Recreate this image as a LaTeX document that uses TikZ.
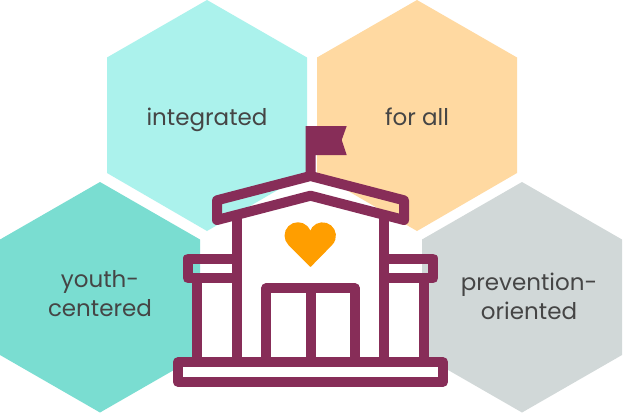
\documentclass[tikz,border=0pt]{standalone}
\usepackage{fontspec}
\setmainfont{Poppins}
\definecolor{maroon}{HTML}{872D58}
\definecolor{hexmint}{HTML}{ABF2EC}
\definecolor{hexpeach}{HTML}{FFD9A1}
\definecolor{hexteal}{HTML}{7ADDD1}
\definecolor{hexgray}{HTML}{D1D8D8}
\definecolor{heartorange}{HTML}{FF9E00}
\definecolor{labeltext}{HTML}{454545}
\tikzset{
  hexshape/.style={draw=none},
  bldg/.style={draw=maroon,line width=10pt,line join=round,line cap=butt},
  lbl/.style={text=labeltext,font=\fontsize{23}{29}\selectfont,align=center,inner sep=0pt}
}
\begin{document}
\begin{tikzpicture}[x=1pt,y=-1pt]
\useasboundingbox (0,0) rectangle (623,413);
\fill[white] (0,0) rectangle (623,413);
% hexagons
\fill[hexshape,hexmint] (207,0) -- (307,57.5) -- (307,173) -- (207,231) -- (107,173) -- (107,57.5) -- cycle;
\fill[hexshape,hexpeach] (417,0) -- (517,57.5) -- (517,173) -- (417,231) -- (317,173) -- (317,57.5) -- cycle;
\fill[hexshape,hexteal] (100,182) -- (200,239.5) -- (200,355) -- (100,412.5) -- (0,355) -- (0,239.5) -- cycle;
\fill[hexshape,hexgray] (522,182) -- (622,239.5) -- (622,355) -- (522,412.5) -- (422,355) -- (422,239.5) -- cycle;
% labels
\node[lbl,anchor=base] (integrated) at (207,125.7) {integrated};
\node[lbl,anchor=base] (forall) at (417,125.7) {for all};
\node[lbl] (youth) at (100,294) {youth-\\centered};
\node[lbl] (prevention) at (529,296) {prevention-\\oriented};
% flag
\fill[maroon] (305.7,126) -- (346.7,126) -- (341.7,140) -- (346.7,155) -- (315.7,155) -- (315.7,175) -- (305.7,175) -- cycle;
% walls and columns
\draw[bldg] (236.7,216) -- (236.7,362);
\draw[bldg] (384.3,216) -- (384.3,362);
\draw[bldg] (197,278) -- (197,362);
\draw[bldg] (424,278) -- (424,362);
% roof
\draw[bldg] (310.5,176) -- (217,200.3) -- (217,220) -- (310.5,195.7) -- (404,220) -- (404,200.3) -- cycle;
% wings
\draw[bldg] (236.7,258.5) -- (187.7,258.5) -- (187.7,278.3) -- (236.7,278.3);
\draw[bldg] (384.3,258.5) -- (433.3,258.5) -- (433.3,278.3) -- (384.3,278.3);
% door
\draw[bldg] (266.2,362) -- (266.2,288.3) -- (354.8,288.3) -- (354.8,362);
\draw[bldg] (310.5,288.3) -- (310.5,362);
% base
\draw[bldg] (177.7,362.3) rectangle (443.3,381.7);
% heart
\fill[heartorange,draw=heartorange,line width=1.5pt,line join=round]
  (310.5,266) -- (289,244.5) arc[start angle=135,end angle=343,radius=12.6]
  -- (310.5,232) arc[start angle=197,end angle=405,radius=12.6] -- cycle;
\end{tikzpicture}
\end{document}
